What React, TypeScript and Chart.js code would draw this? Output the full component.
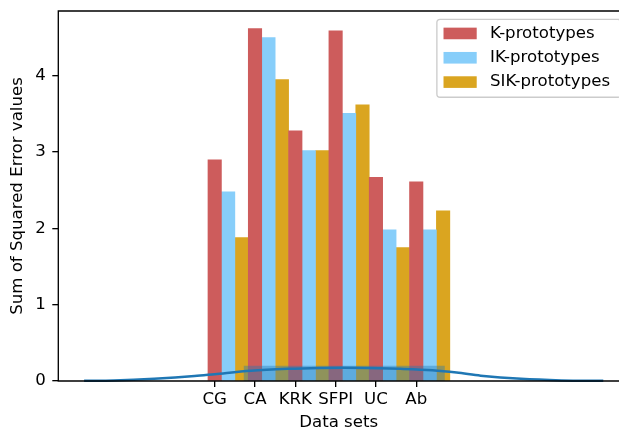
import React, { useEffect, useRef } from 'react';
import { Chart, registerables } from 'chart.js';

Chart.register(...registerables);

// ---- data ----
const categories = ['CG', 'CA', 'KRK', 'SFPI', 'UC', 'Ab'];
const kPrototypes = [2.9, 4.62, 3.28, 4.59, 2.67, 2.61];
const ikPrototypes = [2.48, 4.5, 3.02, 3.51, 1.98, 1.98];
const sikPrototypes = [1.88, 3.95, 3.02, 3.62, 1.75, 2.23];
const seriesLabels = ['K-prototypes', 'IK-prototypes', 'SIK-prototypes'];
const yTicks = [0, 1, 2, 3, 4];
const histEdges = [0.715, 5.71];
const histDensity = [0.2];
const kdeX = [-3.24, -2.5, -1.5, -0.5, 0, 0.9, 1.8, 2.6, 3.2, 3.8, 4.6, 5.4, 6.0, 6.6, 7.6, 8.6, 9.64];
const kdeY = [0.002, 0.008, 0.03, 0.065, 0.09, 0.135, 0.16, 0.172, 0.175, 0.172, 0.16, 0.14, 0.11, 0.07, 0.028, 0.008, 0.002];

// ---- style ----
const FONT = "'DejaVu Sans', sans-serif";
const FS = 16.6;
const BAR_W = 1 / 3;
const COLORS = ['#CD5C5C', '#87CEFA', '#DAA520'];
const LW = 1.33;
const X_MIN = -3.88;
const X_MAX_VISIBLE = 10.03; // axes continue past the right edge of the picture
const AXES_OVERHANG = 10; // px of axes hidden beyond the right edge

const spinesPlugin = {
  id: 'spines',
  afterDatasetsDraw(chart: any) {
    const { ctx, chartArea: a } = chart;
    ctx.save();
    ctx.strokeStyle = '#000';
    ctx.lineWidth = LW;
    ctx.beginPath();
    ctx.moveTo(a.right + 2, a.bottom);
    ctx.lineTo(a.left, a.bottom);
    ctx.lineTo(a.left, a.top);
    ctx.lineTo(a.right + 2, a.top);
    ctx.stroke();
    ctx.restore();
  },
};

const legendPlugin = {
  id: 'mplLegend',
  afterDraw(chart: any) {
    const { ctx, chartArea: a } = chart;
    const items = chart.data.datasets.filter((d: any) => seriesLabels.includes(d.label));
    ctx.save();
    ctx.font = `${FS}px ${FONT}`;
    const maxW = Math.max(...items.map((d: any) => ctx.measureText(d.label).width)) + 4;
    const pad = 0.4 * FS;
    const hl = 2 * FS;
    const htp = 0.8 * FS;
    const bap = 0.5 * FS;
    const textH = 0.965 * FS;
    const ls = 0.5 * FS;
    const w = pad * 2 + hl + htp + maxW;
    const h = pad * 2 + items.length * textH + (items.length - 1) * ls;
    const x0 = a.right + AXES_OVERHANG - bap - w;
    const y0 = a.top + bap;
    const r = 0.2 * FS;
    ctx.beginPath();
    ctx.moveTo(x0 + r, y0);
    ctx.lineTo(x0 + w - r, y0);
    ctx.arcTo(x0 + w, y0, x0 + w, y0 + r, r);
    ctx.lineTo(x0 + w, y0 + h - r);
    ctx.arcTo(x0 + w, y0 + h, x0 + w - r, y0 + h, r);
    ctx.lineTo(x0 + r, y0 + h);
    ctx.arcTo(x0, y0 + h, x0, y0 + h - r, r);
    ctx.lineTo(x0, y0 + r);
    ctx.arcTo(x0, y0, x0 + r, y0, r);
    ctx.closePath();
    ctx.fillStyle = 'rgba(255,255,255,0.8)';
    ctx.fill();
    ctx.strokeStyle = '#cccccc';
    ctx.lineWidth = LW;
    ctx.stroke();
    items.forEach((d: any, i: number) => {
      const cy = y0 + pad + textH / 2 + i * (textH + ls) - 0.5;
      ctx.fillStyle = d.backgroundColor;
      ctx.fillRect(x0 + pad, cy - 0.35 * FS, hl, 0.7 * FS);
      ctx.fillStyle = '#000';
      ctx.textBaseline = 'middle';
      ctx.textAlign = 'left';
      ctx.fillText(d.label, x0 + pad + hl + htp, cy);
    });
    ctx.restore();
  },
};

export default function App() {
  const ref = useRef<HTMLCanvasElement>(null);
  useEffect(() => {
    const canvas = ref.current;
    if (!canvas) return;
    const histPoly = [
      { x: histEdges[0], y: 0 },
      { x: histEdges[0], y: histDensity[0] },
      { x: histEdges[1], y: histDensity[0] },
      { x: histEdges[1], y: 0 },
    ];
    const series = [kPrototypes, ikPrototypes, sikPrototypes];
    const chart = new Chart(canvas, {
      type: 'bar',
      data: {
        datasets: [
          {
            type: 'line',
            label: 'kde',
            data: kdeX.map((x, i) => ({ x, y: kdeY[i] })),
            borderColor: '#1f77b4',
            borderWidth: 2.5,
            pointRadius: 0,
            cubicInterpolationMode: 'monotone',
            fill: false,
            clip: false,
            order: 0,
          } as any,
          {
            type: 'line',
            label: 'hist',
            data: histPoly,
            borderColor: 'transparent',
            borderWidth: 0,
            backgroundColor: 'rgba(31,119,180,0.4)',
            pointRadius: 0,
            tension: 0,
            fill: 'origin',
            order: 1,
          } as any,
          ...series.map((vals, k) => ({
            type: 'bar',
            label: seriesLabels[k],
            data: vals.map((y, i) => ({ x: i + k * BAR_W, y })),
            backgroundColor: COLORS[k],
            borderWidth: 0,
            grouped: false,
            categoryPercentage: 1,
            barPercentage: 1,
            order: 2 + k,
          } as any)),
        ],
      },
      options: {
        responsive: false,
        animation: false,
        devicePixelRatio: 1,
        layout: { padding: { top: 11, right: 0, left: 0, bottom: 0 } },
        plugins: { legend: { display: false }, tooltip: { enabled: false } },
        scales: {
          x: {
            type: 'linear',
            min: X_MIN,
            max: X_MAX_VISIBLE,
            offset: false,
            afterFit: (s: any) => { s.height = 50; s.paddingLeft = 0; s.paddingRight = 0; },
            afterBuildTicks: (s: any) => { s.ticks = categories.map((_, i) => ({ value: i })); },
            ticks: {
              autoSkip: false,
              maxRotation: 0,
              padding: 3,
              color: '#000',
              font: { family: FONT, size: FS },
              callback: (v: any) => categories[Math.round(Number(v))] ?? '',
            },
            grid: { offset: false, drawOnChartArea: false, drawTicks: true, tickLength: 6, color: '#000', lineWidth: LW },
            border: { display: false },
            title: { display: true, text: 'Data sets', color: '#000', font: { family: FONT, size: FS }, padding: { top: 0, bottom: -2 } },
          },
          y: {
            type: 'linear',
            min: 0,
            max: 4.85,
            afterFit: (s: any) => { s.width = 58.3; s.paddingTop = 0; s.paddingBottom = 0; },
            afterBuildTicks: (s: any) => { s.ticks = yTicks.map((v) => ({ value: v })); },
            ticks: {
              padding: 6.5,
              color: '#000',
              font: { family: FONT, size: FS },
              callback: (v: any) => String(v),
            },
            grid: { offset: false, drawOnChartArea: false, drawTicks: true, tickLength: 6, color: '#000', lineWidth: LW },
            border: { display: false },
            title: { display: true, text: 'Sum of Squared Error values', color: '#000', font: { family: FONT, size: FS }, padding: { top: 8, bottom: 0 } },
          },
        },
      } as any,
      plugins: [spinesPlugin, legendPlugin],
    });
    return () => chart.destroy();
  }, []);
  return (
    <div style={{ position: 'fixed', left: 0, top: 0, width: 619, height: 431, overflow: 'hidden', background: '#fff' }}>
      <canvas ref={ref} width={619} height={431} style={{ width: 619, height: 431, display: 'block' }} />
    </div>
  );
}
